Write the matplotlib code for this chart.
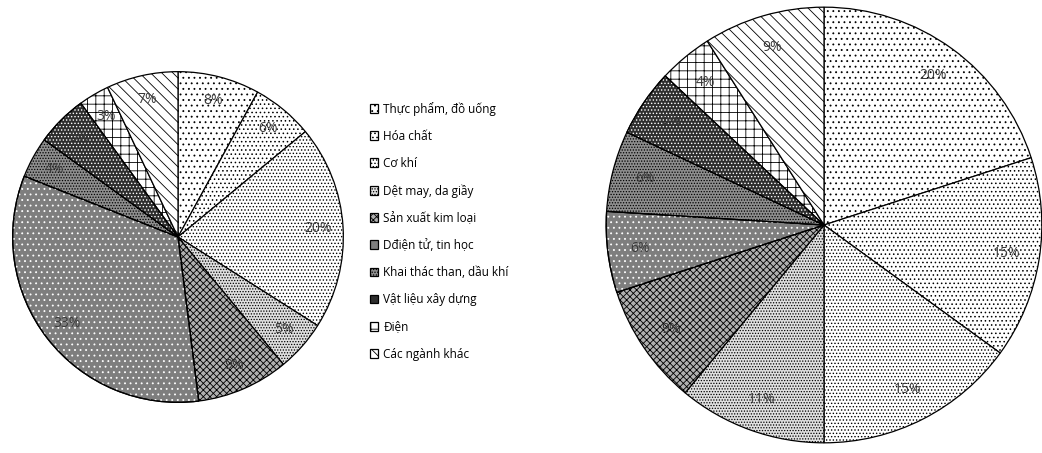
import matplotlib.pyplot as plt
from matplotlib.patches import Wedge

plt.rcParams["font.family"] = ["Open Sans", "DejaVu Sans"]
plt.rcParams["hatch.linewidth"] = 0.6

SECTORS = [
    "Thực phẩm, đồ uống",
    "Hóa chất",
    "Cơ khí",
    "Dệt may, da giầy",
    "Sản xuất kim loại",
    "Dđiện tử, tin học",
    "Khai thác than, dầu khí",
    "Vật liệu xây dựng",
    "Điện",
    "Các ngành khác",
]
LEFT_SHARES = [8, 6, 20, 5, 9, 33, 4, 5, 3, 7]
RIGHT_SHARES = [20, 15, 15, 11, 9, 6, 6, 5, 4, 9]

# fill, black hatch, white hatch drawn over it
STYLES = [
    ("white", "...", None),
    ("white", "....", None),
    ("white", ".....", None),
    ("#e0e0e0", "......", None),
    ("#b0b0b0", "xxxxx", None),
    ("#7e7e7e", None, "..."),
    ("#8e8e8e", "......", None),
    ("#2e2e2e", None, "....."),
    ("white", "++", None),
    ("white", "\\\\\\", None),
]


def draw_pie(ax, shares):
    wedges, texts = ax.pie(
        shares,
        startangle=90,
        counterclock=False,
        radius=1,
        labels=[f"{s}%" for s in shares],
        labeldistance=0.85,
        wedgeprops={"linewidth": 0.9, "edgecolor": "black"},
        textprops={"fontsize": 10, "color": "#3a3a3a", "ha": "center", "va": "center"},
    )
    for w, (fc, hatch, white_hatch) in zip(wedges, STYLES):
        w.set_facecolor(fc)
        if hatch:
            w.set_hatch(hatch)
        if white_hatch:
            over = Wedge(w.center, w.r, w.theta1, w.theta2, facecolor="none",
                         edgecolor="white", linewidth=0, hatch=white_hatch)
            ax.add_patch(over)
            outline = Wedge(w.center, w.r, w.theta1, w.theta2, facecolor="none",
                            edgecolor="black", linewidth=0.9)
            ax.add_patch(outline)
    for t in texts:
        t.set_zorder(5)
    ax.set_xlim(-1.01, 1.01)
    ax.set_ylim(-1.01, 1.01)
    ax.set_aspect("equal")
    ax.axis("off")
    return wedges


fig = plt.figure(figsize=(10.42, 4.53), dpi=100)
W, H = 1042, 453

ax_left = fig.add_axes([11 / W, 49 / H, 334 / W, 334 / H])
ax_right = fig.add_axes([604 / W, 8 / H, 440 / W, 440 / H])

wedges = draw_pie(ax_left, LEFT_SHARES)
draw_pie(ax_right, RIGHT_SHARES)

fig.legend(
    wedges, SECTORS,
    loc="upper left",
    bbox_to_anchor=(359 / W, 1 - 91 / H),
    frameon=False,
    fontsize=8.5,
    handlelength=0.75,
    handleheight=0.75,
    handletextpad=0.4,
    labelspacing=1.2,
)

fig.savefig("out.png", dpi=100)
